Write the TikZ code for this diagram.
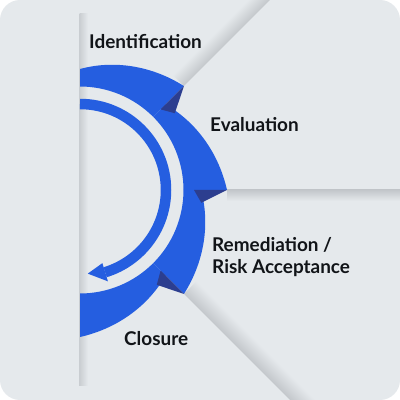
\documentclass[tikz,border=0pt]{standalone}
\usepackage{fontspec}
\setmainfont{Lato}
\definecolor{bgc}{HTML}{E5E9EC}
\definecolor{segblue}{HTML}{255EE0}
\definecolor{folddark}{HTML}{2C3E8F}
\definecolor{shadowc}{HTML}{C3C7CB}
\definecolor{linec}{HTML}{C9CDD1}
\definecolor{txt}{HTML}{111418}
\begin{document}
\begin{tikzpicture}[x=1bp,y=1bp,
  lbl/.style={inner sep=0pt, anchor=base west, font=\fontsize{19}{22}\selectfont\bfseries, text=txt}]
\useasboundingbox (0,0) rectangle (400,400);
\fill[white] (0,0) rectangle (400,400);
\fill[bgc, rounded corners=20bp] (0,0) rectangle (400,400);
\coordinate (C) at (80,210);
\begin{scope}
  \clip[rounded corners=20bp] (0,0) rectangle (400,400);
  % panel fold shadows
  \begin{scope}[transform canvas={shift={({80+147*cos(45)},{210+147*sin(45)})}, rotate=45}]
    \shade[bottom color=shadowc, top color=bgc] (0,0) rectangle (170,16);
  \end{scope}
  \shade[top color=shadowc, bottom color=bgc] (227,199) rectangle (400,210);
  \begin{scope}[transform canvas={shift={({80+147*cos(-45)},{210+147*sin(-45)})}, rotate=-45}]
    \shade[bottom color=shadowc, top color=bgc] (0,0) rectangle (170,18);
  \end{scope}
  % vertical line with shadow
  \shade[left color=shadowc!80!bgc, right color=bgc] (79.5,14) rectangle (88,386);
  \draw[linec, line width=1bp] (79,14) -- (79,386);
\end{scope}
% segments
\foreach \s in {90,45,0,-45}{
  \pgfmathsetmacro\e{\s-45}
  \fill[segblue] plot[domain=0:1, samples=40, variable=\t]
    ({80+(121+26*\t)*cos(\s-45*\t)},{210+(121+26*\t)*sin(\s-45*\t)})
    -- ({80+103.5*cos(\e)},{210+103.5*sin(\e)})
    arc[start angle=\e, end angle=\s, radius=103.5] -- cycle;
}
% folds
\foreach \e in {45,0,-45}{
  \fill[folddark] ({80+147*cos(\e)},{210+147*sin(\e)})
    -- ({80+114*cos(\e)},{210+114*sin(\e)})
    -- ({80+122*cos(\e-6)},{210+122*sin(\e-6)}) -- cycle;
}
% cycle arrow
\draw[segblue, line width=10.5bp] (80,{210+86}) arc[start angle=90, end angle=-73, radius=86];
\fill[segblue] ({80+76.5*cos(-73)},{210+76.5*sin(-73)})
  -- ({80+84*cos(-84.7)},{210+84*sin(-84.7)})
  -- ({80+95.5*cos(-73)},{210+95.5*sin(-73)}) -- cycle;
% labels
\node[lbl] (ident) at (89,352) {Identification};
\node[lbl] (evalu) at (210,269) {Evaluation};
\node[lbl] (remed) at (212,149) {Remediation /};
\node[lbl] (risk) at (212,127) {Risk Acceptance};
\node[lbl] (closu) at (124,55) {Closure};
\end{tikzpicture}
\end{document}
